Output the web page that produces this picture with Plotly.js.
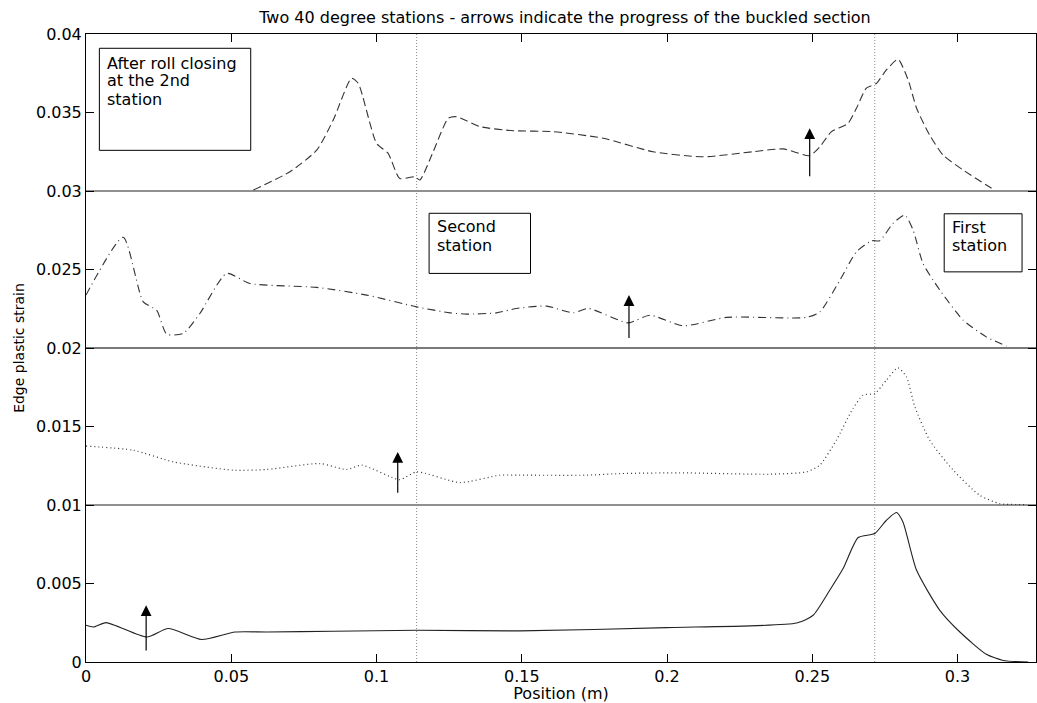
<!DOCTYPE html>
<html>
<head>
<meta charset="utf-8">
<script src="https://cdn.plot.ly/plotly-3.0.1.min.js"></script>
<style>html,body{margin:0;padding:0;background:#fff;}#chart{width:1037px;height:703px;}</style>
</head>
<body>
<div id="chart"></div>
<script>
// ---- data ----
// Bottom curve (solid)
const solidX = [0, 0.0025, 0.0069, 0.0209, 0.0283, 0.0398, 0.0513, 0.0622, 0.085, 0.1138, 0.1493, 0.1998, 0.2446, 0.2503, 0.256, 0.2606, 0.2658, 0.2715, 0.2755, 0.279, 0.2812, 0.2859, 0.2939, 0.3008, 0.3099, 0.3157, 0.3243];
const solidY = [0.00234, 0.00223, 0.00251, 0.00159, 0.00213, 0.00143, 0.00191, 0.00191, 0.00196, 0.00202, 0.00198, 0.00219, 0.00248, 0.00298, 0.00457, 0.00595, 0.00793, 0.00818, 0.00903, 0.00952, 0.00892, 0.00584, 0.00329, 0.00191, 0.00049, 0.0001, 0.0];

// Second curve (dotted)
const dotX = [0, 0.0163, 0.03, 0.0507, 0.0622, 0.0805, 0.0897, 0.0949, 0.108, 0.1138, 0.1287, 0.1425, 0.1493, 0.1723, 0.1838, 0.2044, 0.2354, 0.248, 0.2526, 0.2583, 0.264, 0.2675, 0.2715, 0.2755, 0.2795, 0.2824, 0.2853, 0.2904, 0.2985, 0.3076, 0.3145, 0.3237];
const dotY = [0.01375, 0.01349, 0.01275, 0.01222, 0.01226, 0.01264, 0.01226, 0.01254, 0.01162, 0.01211, 0.01143, 0.0119, 0.0119, 0.0119, 0.0120, 0.01205, 0.01196, 0.01211, 0.01254, 0.01413, 0.01615, 0.017, 0.0171, 0.01795, 0.01874, 0.01816, 0.01625, 0.01413, 0.01222, 0.01062, 0.01009, 0.01003];

// Third curve (dash-dot)
const dashDotX = [0, 0.0128, 0.0197, 0.0243, 0.0278, 0.0335, 0.0392, 0.0484, 0.0564, 0.0794, 0.0966, 0.1138, 0.1253, 0.131, 0.1413, 0.1482, 0.1585, 0.1677, 0.1729, 0.1866, 0.1941, 0.2055, 0.2205, 0.248, 0.2526, 0.2595, 0.2652, 0.2704, 0.2732, 0.2778, 0.2818, 0.2847, 0.2881, 0.2939, 0.3019, 0.3099, 0.3168];
const dashDotY = [0.02337, 0.02705, 0.02294, 0.02241, 0.02088, 0.02093, 0.0222, 0.02475, 0.02411, 0.02386, 0.02337, 0.02262, 0.02224, 0.02216, 0.02224, 0.02252, 0.02267, 0.02224, 0.02252, 0.0216, 0.02209, 0.02141, 0.02195, 0.02195, 0.0223, 0.02432, 0.02613, 0.02683, 0.02683, 0.02794, 0.02847, 0.02751, 0.02539, 0.02369, 0.02178, 0.02071, 0.02012];

// Top curve (dashed)
const dashX = [0.0576, 0.0702, 0.0794, 0.0851, 0.0914, 0.0937, 0.1000, 0.104, 0.108, 0.1132, 0.1149, 0.1195, 0.1247, 0.1276, 0.1356, 0.1471, 0.1608, 0.178, 0.1952, 0.2124, 0.2296, 0.24, 0.2491, 0.2526, 0.2566, 0.2623, 0.2652, 0.2686, 0.2721, 0.2755, 0.2795, 0.283, 0.2859, 0.2904, 0.295, 0.3019, 0.3099, 0.3128];
const dashY = [0.03006, 0.03123, 0.0326, 0.03452, 0.03718, 0.03686, 0.03304, 0.0324, 0.0308, 0.03091, 0.0307, 0.0325, 0.03463, 0.03473, 0.0341, 0.03384, 0.03378, 0.03336, 0.0325, 0.03218, 0.0325, 0.03268, 0.03225, 0.03282, 0.03378, 0.03431, 0.03527, 0.03655, 0.03686, 0.03771, 0.03839, 0.03707, 0.03527, 0.03356, 0.03229, 0.03134, 0.03038, 0.03006];

// Baselines of the offset curves
const baselineY = [0.01, 0.02, 0.03];
const xExtent = [0, 0.327];

// Station positions (vertical dotted lines)
const stationX = [0.1138, 0.2715];

// Arrows: x position, tail and head values
const arrowX = [0.0207, 0.1073, 0.1869, 0.2491];
const arrowTail = [0.00064, 0.01069, 0.02054, 0.03084];
const arrowHead = [0.00361, 0.01338, 0.02337, 0.0340];

// Text labels
const boxLines = [["After roll closing", "at the 2nd", "station"], ["Second", "station"], ["First", "station"]];
const titleText = "Two 40 degree stations - arrows indicate the progress of the buckled section";
const xTitle = "Position (m)";
const yTitle = "Edge plastic strain";

// ---- traces ----
const FONT = "DejaVu Sans, Verdana, sans-serif";
const traces = [];

baselineY.forEach((b, i) => {
  traces.push({x: xExtent, y: [b, b], mode: 'lines', hoverinfo: 'skip',
    line: {color: i === 1 ? '#7a7a7a' : '#222222', width: i === 1 ? 2 : 1.2}});
});
stationX.forEach(s => {
  traces.push({x: [s, s], y: [0, 0.04], mode: 'lines', hoverinfo: 'skip',
    line: {color: '#8a8a8a', width: 1, dash: '1px,2px'}});
});
const sm = 0.6;
traces.push({x: solidX, y: solidY, mode: 'lines', line: {color: '#222', width: 1.1, shape: 'spline', smoothing: sm}});
traces.push({x: dotX, y: dotY, mode: 'lines', line: {color: '#333', width: 1.2, dash: '1px,3px', shape: 'spline', smoothing: sm}});
traces.push({x: dashDotX, y: dashDotY, mode: 'lines', line: {color: '#333', width: 1.1, dash: '8px,4px,1px,4px', shape: 'spline', smoothing: sm}});
traces.push({x: dashX, y: dashY, mode: 'lines', line: {color: '#333', width: 1.1, dash: '8px,4px', shape: 'spline', smoothing: sm}});

// ---- annotations ----
const annotations = arrowX.map((ax, i) => ({
  x: ax, y: arrowHead[i], ax: ax, ay: arrowTail[i],
  xref: 'x', yref: 'y', axref: 'x', ayref: 'y',
  text: '', showarrow: true, arrowhead: 2, arrowsize: 1.8, arrowwidth: 1.2, arrowcolor: '#000', standoff: 0, startstandoff: 0
}));
const boxPos = [
  {x0: 0.0046, x1: 0.0567, y0: 0.03259, y1: 0.03909, tx: 0.0068, ty: [0.03815, 0.03701, 0.03586]},
  {x0: 0.1181, x1: 0.1530, y0: 0.02475, y1: 0.02858, tx: 0.1205, ty: [0.02772, 0.02655]},
  {x0: 0.2954, x1: 0.3222, y0: 0.02485, y1: 0.02855, tx: 0.2979, ty: [0.02766, 0.02652]}
];
const shapes = [];
boxPos.forEach((b, i) => {
  shapes.push({type: 'rect', xref: 'x', yref: 'y', x0: b.x0, x1: b.x1, y0: b.y0, y1: b.y1,
    line: {color: '#000', width: 1}, fillcolor: 'rgba(255,255,255,0)'});
  boxLines[i].forEach((t, j) => {
    annotations.push({x: b.tx, y: b.ty[j], xref: 'x', yref: 'y', xanchor: 'left', yanchor: 'middle',
      align: 'left', showarrow: false, text: t, borderpad: 0, font: {family: FONT, size: 16, color: '#000'}});
  });
});

const layout = {
  width: 1037, height: 703,
  margin: {l: 86, r: 1, t: 34, b: 41, pad: 0},
  paper_bgcolor: '#fff', plot_bgcolor: '#fff',
  showlegend: false,
  font: {family: FONT, size: 16, color: '#000'},
  title: {text: titleText, font: {family: FONT, size: 16, color: '#000'},
    x: 565 / 1037, xref: 'container', xanchor: 'center', y: 1 - 17 / 703, yref: 'container', yanchor: 'middle'},
  xaxis: {range: xExtent, dtick: 0.05, tick0: 0, ticks: 'inside', ticklen: 8, tickcolor: '#000',
    showline: true, linecolor: '#000', linewidth: 1, mirror: 'ticks', showgrid: false, zeroline: false,
    tickfont: {family: FONT, size: 16, color: '#000'},
    title: {text: xTitle, font: {family: FONT, size: 16, color: '#000'}, standoff: 5}},
  yaxis: {range: [0, 0.04], dtick: 0.005, tick0: 0, ticks: 'inside', ticklen: 8, tickcolor: '#000',
    showline: true, linecolor: '#000', linewidth: 1, mirror: 'ticks', showgrid: false, zeroline: false,
    tickfont: {family: FONT, size: 16, color: '#000'},
    title: {text: yTitle, font: {family: FONT, size: 14, color: '#000'}, standoff: 8}},
  shapes: shapes,
  annotations: annotations
};

Plotly.newPlot('chart', traces, layout, {displayModeBar: false, staticPlot: true});
</script>
</body>
</html>
